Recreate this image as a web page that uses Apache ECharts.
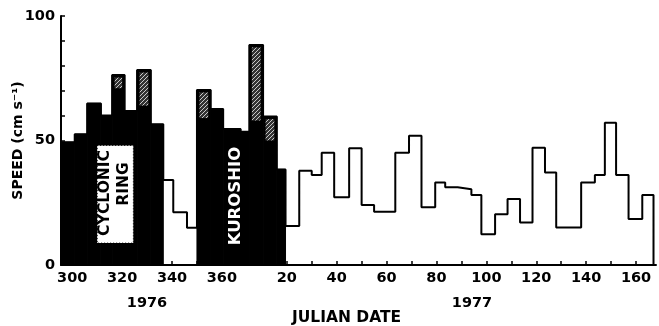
<!DOCTYPE html>
<html>
<head>
<meta charset="utf-8">
<script src="https://cdn.jsdelivr.net/npm/echarts@6/dist/echarts.min.js"></script>
<style>html,body{margin:0;padding:0;background:#fff}#c{width:659px;height:326px}</style>
</head>
<body>
<div id="c"></div>
<script>
// Day numbers are continuous from 1 Jan 1976 (leap year, 366 days): 1977 day d -> 366 + d
const binEdges = [295.5, 301, 306, 311.5, 316, 321, 326, 331.5, 336.5, 340.5, 346, 350,
  355.5, 360.5, 367.5, 371, 376.5, 382, 385.5, 391, 396, 400, 405, 411, 416, 421, 429.5,
  435, 440, 445.5, 449.5, 454.5, 460, 464, 469.5, 474.5, 479.5, 484.5, 489.5, 494, 504,
  509.5, 513.5, 518, 523, 528.5, 533];
const speeds = [49.3, 52.5, 64.9, 60, 76.3, 61.8, 78.3, 56.5, 34.1, 21.2, 15,
  70.3, 62.7, 54.6, 53.5, 88.4, 59.6, 38.4, 15.7, 37.9, 36.1, 45.1, 27.2, 46.9,
  24.1, 21.4, 45.1, 51.9, 23.2, 33.1, 31.2, 30.4, 28.1, 12.3, 20.4, 26.5, 17.1,
  47.1, 37.1, 15.1, 33.1, 36.1, 57.1, 36.1, 18.5, 28.1];
// 1 = inside the cyclonic ring / Kuroshio (filled black)
const inFeature = [1,1,1,1,1,1,1,1,0,0,0, 1,1,1,1,1,1,1, 0,0,0,0,0,0,0,0,0,0,0,0,0,0,0,0,0,0,0,0,0,0,0,0,0,0,0,0];
// lower limit of hatched upper part (0 = none)
const hatchFrom = [0,0,0,0,71,0,64,0,0,0,0, 59,0,0,0,58,50,0, 0,0,0,0,0,0,0,0,0,0,0,0,0,0,0,0,0,0,0,0,0,0,0,0,0,0,0,0];
const xTickDays = [300,310,320,330,340,350,360, 376,386,396,406,416,426,436,446,456,466,476,486,496,506,516,526];
const xLabelDays = [300,320,340,360, 386,406,426,446,466,486,506,526];
const yTicks = [0,10,20,30,40,50,60,70,80,90,100];
const yLabels = [0,50,100];

const FONT = 'DejaVu Sans';

function makeHatch(){
  const c = document.createElement('canvas'); c.width = 4; c.height = 4;
  const g = c.getContext('2d');
  g.fillStyle = '#333'; g.fillRect(0,0,4,4);
  g.strokeStyle = '#c8c8c8'; g.lineWidth = 1;
  g.beginPath();
  g.moveTo(-1,1); g.lineTo(1,-1);
  g.moveTo(0,4); g.lineTo(4,0);
  g.moveTo(3,5); g.lineTo(5,3);
  g.stroke();
  return c;
}
const hatch = {image: makeHatch(), repeat: 'repeat'};

const barData = speeds.map((v,i)=>[binEdges[i], binEdges[i+1], v, inFeature[i], hatchFrom[i]]);
const stepData = speeds.map((v,i)=>[binEdges[i], v]);
stepData.push([binEdges[binEdges.length-1], speeds[speeds.length-1]]);
stepData.push([binEdges[binEdges.length-1], 0]);

const chart = echarts.init(document.getElementById('c'), null, {renderer:'canvas'});
chart.setOption({
  animation: false,
  backgroundColor: '#fff',
  grid: {left: 61, right: 3, top: 16, bottom: 61, containLabel: false, outerBoundsMode: 'none'},
  xAxis: {
    type: 'value', min: 295.5, max: 534,
    axisLine: {show: true, onZero: false, lineStyle: {color: '#000', width: 2}},
    axisTick: {show: true, inside: true, length: 4, customValues: xTickDays, lineStyle: {color:'#000', width: 1.5}},
    axisLabel: {customValues: xLabelDays, margin: 6, color: '#000', fontFamily: FONT, fontWeight: 'bold', fontSize: 14.5,
      formatter: v => String(v > 366 ? Math.round(v - 366) : v)},
    splitLine: {show: false}
  },
  yAxis: {
    type: 'value', min: 0, max: 100,
    name: 'SPEED (cm s\u207B\u00B9)', nameLocation: 'middle', nameGap: 36, nameMoveOverlap: false,
    nameTextStyle: {color:'#000', fontFamily: FONT, fontWeight: 'bold', fontSize: 14},
    axisLine: {show: true, lineStyle: {color: '#000', width: 2}},
    axisTick: {show: true, inside: true, length: 4, customValues: yTicks, lineStyle: {color:'#000', width: 1.5}},
    axisLabel: {customValues: yLabels, margin: 6, color: '#000', fontFamily: FONT, fontWeight: 'bold', fontSize: 14.5},
    splitLine: {show: false}
  },
  series: [
    {
      type: 'custom', data: barData, z: 2,
      encode: {x: [0,1], y: 2},
      itemStyle: {borderWidth: 0},
      renderItem: function(params, api){
        const s = api.value(0), e = api.value(1), v = api.value(2), f = api.value(3), h = api.value(4);
        const children = [];
        if (f) {
          const p0 = api.coord([s, v]), p1 = api.coord([e, 0]);
          children.push({type:'rect', shape:{x:p0[0], y:p0[1], width:p1[0]-p0[0], height:p1[1]-p0[1]},
            style:{fill:'#000', stroke:'#000', lineWidth:1}});
          if (h > 0) {
            const q0 = api.coord([s, v]), q1 = api.coord([e, h]);
            children.push({type:'rect', shape:{x:q0[0]+2.5, y:q0[1]+2.5, width:q1[0]-q0[0]-5, height:q1[1]-q0[1]-2.5},
              style:{fill: hatch, stroke: null, lineWidth: 0}});
          }
        }
        return {type:'group', children: children};
      }
    },
    {
      type: 'line', data: stepData, step: 'end', symbol: 'none', z: 3,
      lineStyle: {color: '#000', width: 2}
    }
  ]
});

function px(t, v){ return chart.convertToPixel({gridIndex: 0}, [t, v]); }
const b0 = px(310, 48), b1 = px(324.5, 8.8);
const cyc = px(313.3, 28.9), ring = px(320.9, 32.5), kur = px(365.5, 27.7);
chart.setOption({
  graphic: [
    {type:'rect', shape:{x:b0[0], y:b0[1], width:b1[0]-b0[0], height:b1[1]-b0[1]}, style:{fill:'#fff', stroke:'#000', lineWidth:1, lineDash:[1,2]}, z: 10},
    {type:'text', x: cyc[0], y: cyc[1], rotation: Math.PI/2, z: 11,
      style:{text:'CYCLONIC', fill:'#000', font:'bold 15.5px "DejaVu Sans"', align:'center', verticalAlign:'middle'}},
    {type:'text', x: ring[0], y: ring[1], rotation: Math.PI/2, z: 11,
      style:{text:'RING', fill:'#000', font:'bold 15.5px "DejaVu Sans"', align:'center', verticalAlign:'middle'}},
    {type:'text', x: kur[0], y: kur[1], rotation: Math.PI/2, z: 11,
      style:{text:'KUROSHIO', fill:'#fff', font:'bold 16.5px "DejaVu Sans"', align:'center', verticalAlign:'middle'}},
    {type:'text', x: 147, y: 303, z: 11,
      style:{text:'1976', fill:'#000', font:'bold 14.5px "DejaVu Sans"', align:'center', verticalAlign:'middle'}},
    {type:'text', x: 472, y: 303, z: 11,
      style:{text:'1977', fill:'#000', font:'bold 14.5px "DejaVu Sans"', align:'center', verticalAlign:'middle'}},
    {type:'text', x: 346.5, y: 318, z: 11,
      style:{text:'JULIAN DATE', fill:'#000', font:'bold 15.5px "DejaVu Sans"', align:'center', verticalAlign:'middle'}}
  ]
});
</script>
</body>
</html>
